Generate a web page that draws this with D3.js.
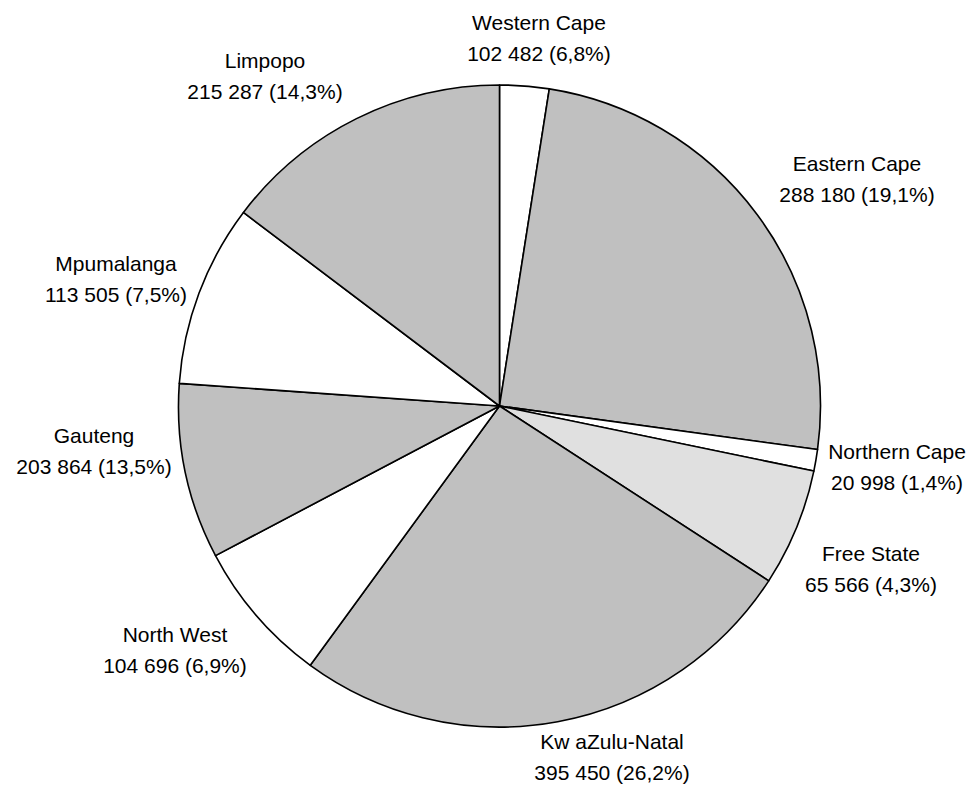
<!DOCTYPE html>
<html>
<head>
<meta charset="utf-8">
<script src="https://cdn.jsdelivr.net/npm/d3@7"></script>
<style>
  html, body { margin: 0; padding: 0; background: #fff; }
  svg { display: block; }
  text { font-family: Arial, "Liberation Sans", sans-serif; fill: #000; }
</style>
</head>
<body>
<svg id="chart" width="972" height="787"></svg>
<script>
// Provinces in drawing order (clockwise from 12 o'clock)
const provinces = ["Western Cape", "Eastern Cape", "Northern Cape", "Free State",
  "Kw aZulu-Natal", "North West", "Gauteng", "Mpumalanga", "Limpopo"];
// Slice share (%) as drawn in the picture
const sliceShare = [2.48, 24.69, 1.08, 5.92, 25.87, 7.25, 8.84, 9.18, 14.70];
// Label values printed on the chart
const counts = ["102 482", "288 180", "20 998", "65 566", "395 450", "104 696", "203 864", "113 505", "215 287"];
const percents = ["6,8%", "19,1%", "1,4%", "4,3%", "26,2%", "6,9%", "13,5%", "7,5%", "14,3%"];
// Fill shades per slice
const fills = ["#ffffff", "#c0c0c0", "#ffffff", "#e0e0e0", "#c0c0c0", "#ffffff", "#c0c0c0", "#ffffff", "#c0c0c0"];
// Label anchor positions (text centre x, first baseline y)
const labelX = [539, 857, 897, 871, 612, 175, 94, 116, 265];
const labelY = [30, 171, 459, 561, 749, 642, 443, 271, 68];

const svg = d3.select("#chart");
const cx = 499.5, cy = 406, r = 321;

const data = provinces.map((p, i) => ({ name: p, share: sliceShare[i], i }));
const pie = d3.pie().value(d => d.share).sort(null);
const arc = d3.arc().innerRadius(0).outerRadius(r);

const g = svg.append("g").attr("transform", `translate(${cx},${cy})`);
g.selectAll("path")
  .data(pie(data))
  .join("path")
  .attr("d", arc)
  .attr("fill", d => fills[d.data.i])
  .attr("stroke", "#000")
  .attr("stroke-width", 1.6)
  .attr("stroke-linejoin", "round");

const lab = svg.append("g").selectAll("text")
  .data(data)
  .join("text")
  .attr("text-anchor", "middle")
  .attr("font-size", 21)
  .attr("x", d => labelX[d.i])
  .attr("y", d => labelY[d.i]);
lab.append("tspan").attr("x", d => labelX[d.i]).text(d => d.name);
lab.append("tspan").attr("x", d => labelX[d.i]).attr("dy", 31)
  .text(d => `${counts[d.i]} (${percents[d.i]})`);
</script>
</body>
</html>
